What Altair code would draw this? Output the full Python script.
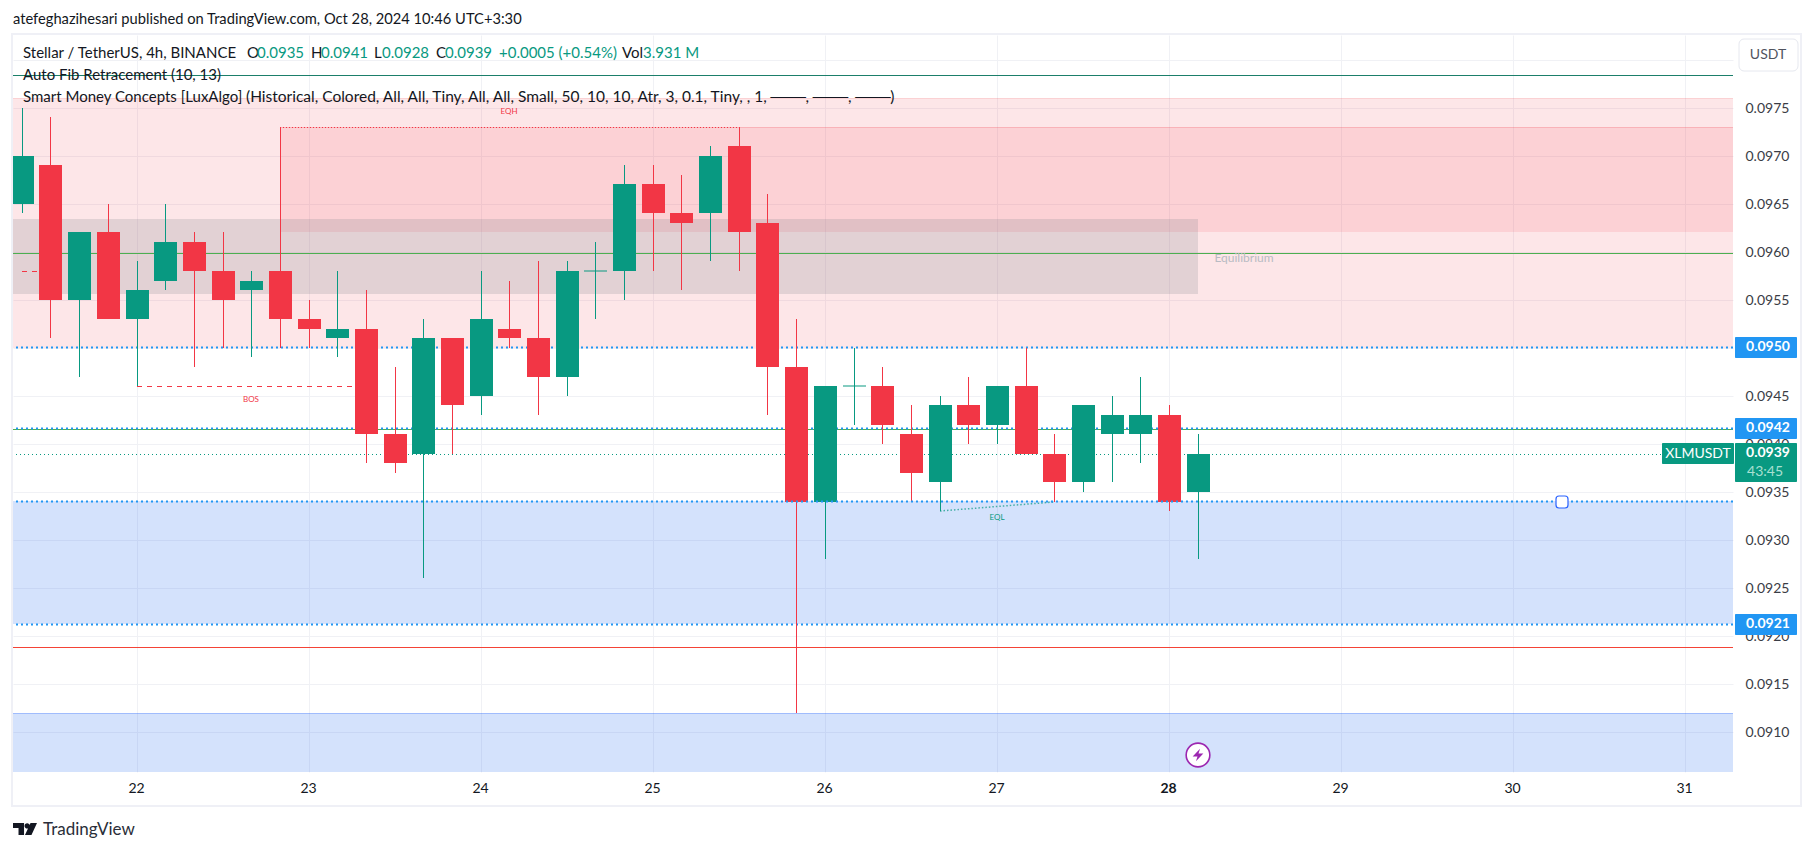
import altair as alt
import pandas as pd

# ---------- data ----------
opens  = [965,969,955,962,953,957,961,958,956,958,953,951,952,941,939,951,945,952,951,947,958,958,967,964,964,971,963,948,934,946,946,941,936,944,942,946,939,936,941,941,943,935]
closes = [970,955,962,953,956,961,958,955,957,953,952,952,941,938,951,944,953,951,947,958,958,967,964,963,970,962,948,934,946,946,942,937,944,942,946,939,936,944,943,943,934,939]
highs  = [975,974,962,965,959,965,962,962,958,973,955,958,956,948,953,951,958,957,959,959,961,969,969,968,971,973,966,953,946,950,948,944,945,947,946,950,941,944,945,947,944,941]
lows   = [964,951,947,953,946,956,948,950,949,950,950,949,938,937,926,939,943,950,943,945,953,955,958,956,959,958,943,912,928,942,940,934,933,940,940,939,934,935,936,938,933,928]
day_labels = ["22","23","24","25","26","27","28","29","30","31"]
day_index  = [4,10,16,22,28,34,40,46,52,58]
price_ticks = [0.0910,0.0915,0.0920,0.0925,0.0930,0.0935,0.0940,0.0945,0.0950,0.0955,0.0960,0.0965,0.0970,0.0975,0.0980]
dotted_levels = [0.09501,0.09417,0.09213]
pill_labels = ["0.0950","0.0942","0.0921"]
TEAL, RED, BLUE = "#089981", "#f23645", "#2196f3"
FONT = "Lato"
X0, X1 = -0.3068, 59.665
YS = alt.Scale(domain=[0.090586,0.098255], nice=False, zero=False, round=True, padding=0)
XS = alt.Scale(domain=[X0,X1], nice=False, zero=False, round=True, padding=0)

candles = pd.DataFrame({
    "i": range(len(opens)),
    "o": [v/10000 for v in opens], "c": [v/10000 for v in closes],
    "h": [v/10000 for v in highs], "l": [v/10000 for v in lows],
})
candles["dir"] = ["up" if c >= o else "down" for o, c in zip(opens, closes)]
dir_color = alt.Color("dir:N", scale=alt.Scale(domain=["up","down"], range=[TEAL,RED]), legend=None)

X = lambda f: alt.X(f"{f}:Q", scale=XS, title=None)
Y = lambda f: alt.Y(f"{f}:Q", scale=YS, title=None)

label_map = "{" + ",".join(f"{i}:'{d}'" for i, d in zip(day_index, day_labels)) + "}"
axes = alt.Chart(pd.DataFrame({"i":[X0], "p":[0.0950]})).mark_point(opacity=0).encode(
    x=alt.X("i:Q", scale=XS, title=None, axis=alt.Axis(
        values=day_index, labelExpr=f"{label_map}[datum.value]", grid=True, gridColor="#f0f1f5",
        domain=False, ticks=False, labelFont=FONT, labelFontSize=14, labelColor="#131722", labelPadding=9,
        labelOverlap=False, labelFlush=False, labelOffset=-1,
        labelFontWeight=alt.condition("datum.value == 40", alt.value(700), alt.value(400)))),
    y=alt.Y("p:Q", scale=YS, title=None, axis=alt.Axis(
        orient="right", values=price_ticks, format=".4f", grid=True, gridColor="#f0f1f5", domain=False, ticks=False,
        labelFont=FONT, labelFontSize=14, labelColor="#3a3d46", labelPadding=12, labelOverlap=False, labelBound=False)),
)

def zone(x0, x1, p0, p1, color, opacity):
    df = pd.DataFrame({"x0":[x0],"x1":[x1],"p0":[p0],"p1":[p1]})
    return alt.Chart(df).mark_rect(fill=color, opacity=opacity, clip=True).encode(
        x=X("x0"), x2="x1:Q", y=Y("p0"), y2="p1:Q")

def level(p, color, width=1.0, dash=None, opacity=1.0):
    kw = {"strokeDash": dash} if dash else {}
    return alt.Chart(pd.DataFrame({"p":[p]})).mark_rule(color=color, strokeWidth=width, opacity=opacity, yOffset=0.5, **kw).encode(y=Y("p"))

def segment(x0, x1, p, color, dash, width=1.0, opacity=1.0):
    df = pd.DataFrame({"x0":[x0],"x1":[x1],"p":[p]})
    return alt.Chart(df).mark_rule(color=color, strokeWidth=width, strokeDash=dash, yOffset=0.5, opacity=opacity, clip=True).encode(
        x=X("x0"), x2="x1:Q", y=Y("p"))

def text_px(s, x, y, color="#131722", size=15, align="left", weight=400, font=FONT):
    return alt.Chart(pd.DataFrame({"t":[s]})).mark_text(
        color=color, fontSize=size, align=align, baseline="middle", fontWeight=weight, font=font
    ).encode(text="t:N", x=alt.value(x-13), y=alt.value(y-35))

def text_data(s, i, p, color, size, dy=0):
    return alt.Chart(pd.DataFrame({"t":[s],"i":[i],"p":[p]})).mark_text(
        color=color, fontSize=size, align="center", baseline="middle", font=FONT, dy=dy
    ).encode(text="t:N", x=X("i"), y=Y("p"))

def px_box(x0, x1, y0, y1, fill, radius=0, stroke=None):
    kw = {"stroke": stroke, "strokeWidth": 1} if stroke else {}
    return alt.Chart(pd.DataFrame({"a":[0]})).mark_rect(fill=fill, cornerRadius=radius, **kw).encode(
        x=alt.value(x0-13), x2=alt.value(x1-13), y=alt.value(y0-35), y2=alt.value(y1-35))

def pill(p, s):
    df = pd.DataFrame({"p":[p],"t":[s]})
    box = alt.Chart(df).mark_rect(fill=BLUE, yOffset=-10, y2Offset=11, cornerRadius=1).encode(
        x=alt.value(1735-13), x2=alt.value(1797-13), y=Y("p"), y2="p:Q")
    txt = alt.Chart(df).mark_text(color="white", fontSize=14, font=FONT, fontWeight=700, align="center", baseline="middle").encode(
        x=alt.value(1768-13), y=Y("p"), text="t:N")
    return box + txt

layers = [axes]

# zones
layers += [
    zone(X0, X1, 0.0950, 0.0976, RED, 0.125),
    zone(9, X1, 0.0962, 0.0973, RED, 0.115),
    zone(X0, 41, 0.09556, 0.09634, "#787b86", 0.2),
    zone(X0, X1, 0.09213, 0.09341, "#2a6ff0", 0.2),
    zone(X0, X1, 0.090586, 0.0912, "#2a6ff0", 0.2),
    level(0.0976, RED, opacity=0.12),
    segment(9, X1, 0.0973, RED, [1,0], opacity=0.2),
    level(0.0912, "#2962ff", opacity=0.3),
]
# lines
layers += [
    level(0.09784, "#1b7f6a"),
    level(0.09599, "#4caf50"),
    level(0.09415, "#4caf50"),
    level(0.09189, "#f44336"),
    level(0.0939, TEAL, dash=[1,3]),
]
layers += [level(p, BLUE, width=2, dash=[2,3]) for p in dotted_levels]
layers += [
    segment(9, 25, 0.0973, RED, [1,2]),
    segment(4, 12, 0.0946, RED, [5,5]),
    segment(0, 1, 0.0958, RED, [5,5]),
]
eql = pd.DataFrame({"i":[32,36], "p":[0.0933,0.0934]})
layers.append(alt.Chart(eql).mark_line(color=TEAL, strokeWidth=1.5, strokeDash=[1.5,2], opacity=0.7, clip=True).encode(x=X("i"), y=Y("p")))

# candles
layers += [
    alt.Chart(candles).mark_rule(strokeWidth=1, xOffset=0.5, clip=True).encode(x=X("i"), y=Y("l"), y2="h:Q", color=dir_color),
    alt.Chart(candles[candles.o != candles.c]).mark_bar(size=23, xOffset=0.5, clip=True).encode(x=X("i"), y=Y("o"), y2="c:Q", color=dir_color),
    alt.Chart(candles[candles.o == candles.c]).mark_bar(size=23, xOffset=0.5, clip=True, yOffset=-0.5, y2Offset=0.5).encode(x=X("i"), y=Y("o"), y2="c:Q", color=dir_color),
    level(0.09341, BLUE, width=2, dash=[2,3]),
]

# chart annotations
layers += [
    text_data("EQH", 17, 0.09745, RED, 8),
    text_data("BOS", 8, 0.09446, RED, 8),
    text_data("EQL", 34, 0.09323, TEAL, 8),
    text_data("Equilibrium", 42.6, 0.09593, "#b8bbc3", 12),
]
handle = pd.DataFrame({"i":[53.7], "p":[0.0934]})
layers.append(alt.Chart(handle).mark_rect(fill="white", stroke="#2962ff", strokeWidth=1.2, cornerRadius=3,
        xOffset=-6, x2Offset=6, yOffset=-6, y2Offset=6).encode(x=X("i"), x2="i:Q", y=Y("p"), y2="p:Q"))
icon = pd.DataFrame({"i":[41]})
layers += [
    alt.Chart(icon).mark_point(shape="circle", size=560, filled=True, fill="white", stroke="#9c27b0", strokeWidth=1.6, opacity=1).encode(x=X("i"), y=alt.value(720)),
    alt.Chart(icon).mark_point(shape="M.16-.5L-.42.12H-.04L-.16.5L.42-.12H.04Z", size=650, filled=True, fill="#9c27b0", opacity=1, strokeWidth=0).encode(x=X("i"), y=alt.value(720)),
]

# price-scale overlays
layers += [pill(p, s) for p, s in zip(dotted_levels, pill_labels)]
layers += [
    px_box(1735, 1797, 443, 482, TEAL, 1),
    text_px("0.0939", 1768, 453, "white", 14, "center", 700),
    text_px("43:45", 1765, 472, "#a8e0d2", 14, "center"),
    px_box(1662, 1734, 443, 464, TEAL, 1),
    text_px("XLMUSDT", 1698, 454, "white", 14, "center"),
    px_box(1739, 1798, 39, 71, "white", 5, "#e6e8ef"),
    text_px("USDT", 1768, 55, "#50535e", 14, "center"),
]

# frame
layers.append(alt.Chart(pd.DataFrame({"a":[0]})).mark_rect(fill="transparent", stroke="#eff0f6", strokeWidth=2).encode(
    x=alt.value(12-13), x2=alt.value(1801-13), y=alt.value(34-35), y2=alt.value(806-35)))

# header
layers += [
    text_px("atefeghazihesari published on TradingView.com, Oct 28, 2024 10:46 UTC+3:30", 13, 20, size=14.7),
    text_px("Stellar / TetherUS, 4h, BINANCE", 23, 53),
    text_px("O", 247, 53), text_px("0.0935", 257, 53, TEAL),
    text_px("H", 311, 53), text_px("0.0941", 321, 53, TEAL),
    text_px("L", 374, 53), text_px("0.0928", 382, 53, TEAL),
    text_px("C", 436, 53), text_px("0.0939", 445, 53, TEAL),
    text_px("+0.0005 (+0.54%)", 499, 53, TEAL),
    text_px("Vol", 622, 53), text_px("3.931 M", 643, 53, TEAL),
    text_px("Auto Fib Retracement (10, 13)", 23, 75),
    text_px("Smart Money Concepts [LuxAlgo]", 23, 97),
    text_px("(Historical, Colored, All, All, Tiny, All, All, Small, 50, 10, 10, Atr, 3, 0.1, Tiny, , 1, \u2500\u2500\u2500, \u2500\u2500\u2500, \u2500\u2500\u2500)", 246, 97, size=15.5),
]

# logo
logo = pd.DataFrame({"a":[0]})
layers += [
    alt.Chart(logo).mark_point(
        shape="M-.5-.25H-.04V.25H-.27V-.04H-.5ZM.5-.25L.27.25H0L.23-.25Z M.2-.13A.11.11 0 1 1 -.02-.13A.11.11 0 1 1 .2-.13Z",
        size=2304, filled=True, fill="#131722", opacity=1, strokeWidth=0).encode(x=alt.value(25-13), y=alt.value(829-35)),
    text_px("TradingView", 43, 830, "#2a2e39", 17),
]

chart = alt.layer(*layers).resolve_scale(color="independent").properties(
    width=1720, height=737,
    padding={"left":5,"top":27,"right":73,"bottom":70},
    autosize=alt.AutoSizeParams(type="none"),
    background="white",
).configure_view(stroke=None)

chart.save("out.html", embed_options={"renderer": "svg", "actions": False})
